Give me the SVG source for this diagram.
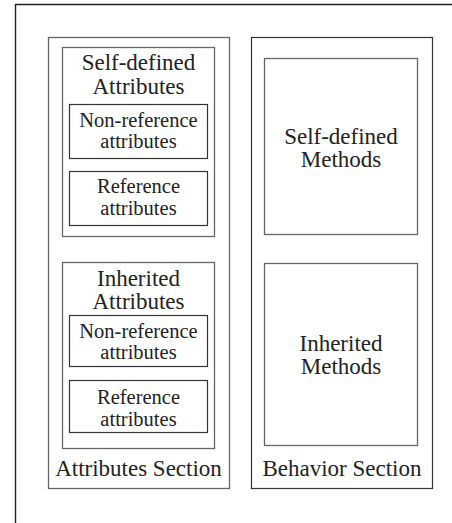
<svg xmlns="http://www.w3.org/2000/svg" width="452" height="523" viewBox="0 0 452 523">
<style>
.b{fill:none;stroke:#666;stroke-width:1.3}
.i{fill:none;stroke:#333;stroke-width:1.2}
svg text, text{font-family:"Liberation Serif","Times New Roman",serif !important;fill:#222;text-anchor:middle}
.l{font-size:23px}
.s{font-size:20.5px}
</style>
<rect width="452" height="523" fill="#fff"/>
<path d="M15.5,523 V4.5 H452" fill="none" stroke="#222" stroke-width="1.4"/>
<g id="attributes-section">
<rect class="b" x="48.5" y="37.5" width="181" height="451"/>
<text class="l" x="138.5" y="476" style="font-family:'Liberation Serif',serif">Attributes Section</text>
</g>
<g id="self-defined-attributes">
<rect class="b" x="62.5" y="47.5" width="152" height="189"/>
<text class="l" x="138.5" y="70" style="font-family:'Liberation Serif',serif">Self-defined</text>
<text class="l" x="138.5" y="94" style="font-family:'Liberation Serif',serif">Attributes</text>
</g>
<g id="sd-non-reference">
<rect class="i" x="69.5" y="104.5" width="138" height="54"/>
<text class="s" x="138.5" y="127" style="font-family:'Liberation Serif',serif">Non-reference</text>
<text class="s" x="138.5" y="148" style="font-family:'Liberation Serif',serif">attributes</text>
</g>
<g id="sd-reference">
<rect class="i" x="69.5" y="171.5" width="138" height="54"/>
<text class="s" x="138.5" y="193" style="font-family:'Liberation Serif',serif">Reference</text>
<text class="s" x="138.5" y="215" style="font-family:'Liberation Serif',serif">attributes</text>
</g>
<g id="inherited-attributes">
<rect class="b" x="62.5" y="262.5" width="152" height="186"/>
<text class="l" x="138.5" y="286" style="font-family:'Liberation Serif',serif">Inherited</text>
<text class="l" x="138.5" y="309" style="font-family:'Liberation Serif',serif">Attributes</text>
</g>
<g id="in-non-reference">
<rect class="i" x="69.5" y="315.5" width="138" height="51"/>
<text class="s" x="138.5" y="338" style="font-family:'Liberation Serif',serif">Non-reference</text>
<text class="s" x="138.5" y="359" style="font-family:'Liberation Serif',serif">attributes</text>
</g>
<g id="in-reference">
<rect class="i" x="69.5" y="380.5" width="138" height="52"/>
<text class="s" x="138.5" y="404" style="font-family:'Liberation Serif',serif">Reference</text>
<text class="s" x="138.5" y="426" style="font-family:'Liberation Serif',serif">attributes</text>
</g>
<g id="behavior-section">
<rect class="i" x="251.5" y="37.5" width="181" height="451"/>
<text class="l" x="342" y="476" style="font-family:'Liberation Serif',serif">Behavior Section</text>
</g>
<g id="self-defined-methods">
<rect class="b" x="264.5" y="58.5" width="153" height="176"/>
<text class="l" x="341" y="144" style="font-family:'Liberation Serif',serif">Self-defined</text>
<text class="l" x="341" y="167" style="font-family:'Liberation Serif',serif">Methods</text>
</g>
<g id="inherited-methods">
<rect class="b" x="264.5" y="263.5" width="153" height="182"/>
<text class="l" x="341" y="351" style="font-family:'Liberation Serif',serif">Inherited</text>
<text class="l" x="341" y="374" style="font-family:'Liberation Serif',serif">Methods</text>
</g>
<g id="connectors"/>
</svg>
